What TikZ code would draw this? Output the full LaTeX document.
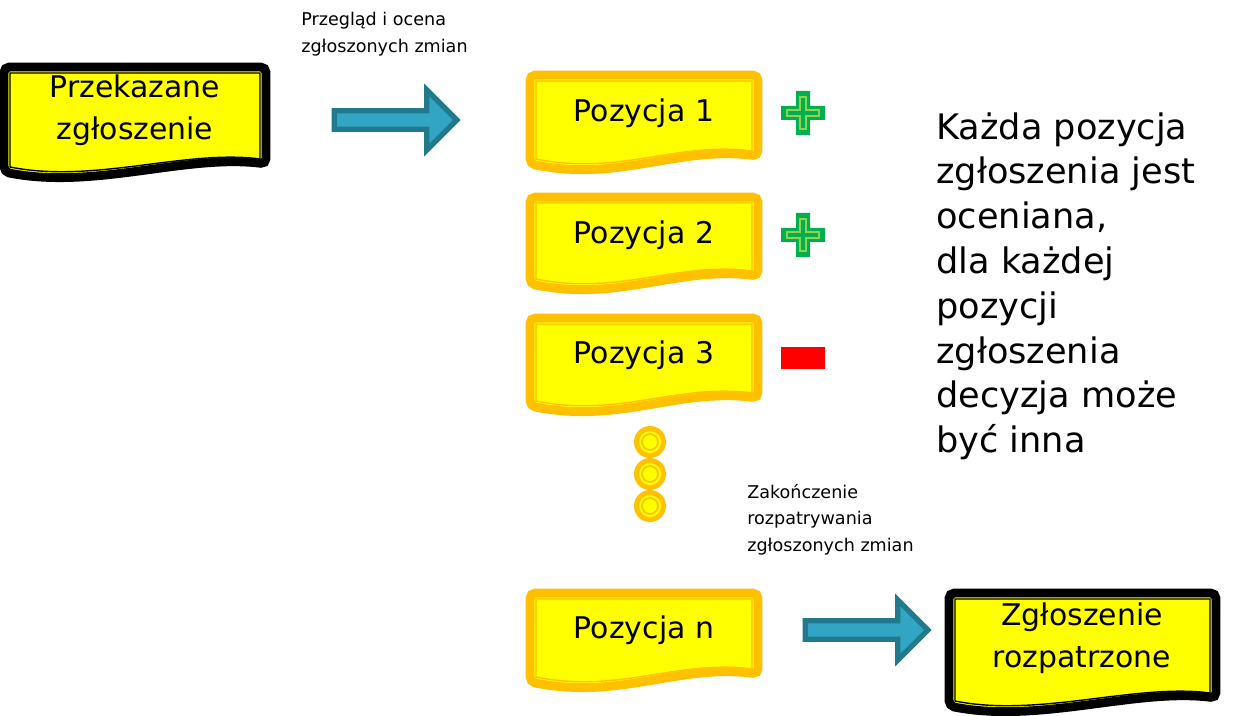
\documentclass[tikz,border=0pt]{standalone}
\usepackage{fontspec}
\setmainfont{DejaVu Sans}
\usetikzlibrary{shapes.arrows}
\definecolor{docyellow}{HTML}{FFFF00}
\definecolor{docorange}{HTML}{FFC000}
\definecolor{arrowblue}{HTML}{31A5C3}
\definecolor{arrowdark}{HTML}{217A8C}
\definecolor{plusgreen}{HTML}{00B050}
\definecolor{pluslight}{HTML}{92D050}

% document shape: x1 y1 x2 y2 border
\newcommand\docshape[5]{%
  \draw[#5,line width=5pt,fill=docyellow,rounded corners=3pt]
    (#1,#2) -- (#3,#2) -- (#3,#4-12) .. controls (#3-80,#4-22) and (#1+90,#4+14) .. (#1,#4-4) -- cycle;
  \draw[#5,line width=0.8pt]
    (#1+6,#2+6) -- (#3-6,#2+6) -- (#3-6,#4-17) .. controls (#3-80,#4-27) and (#1+90,#4+8) .. (#1+6,#4-9) -- cycle;
}
\newcommand\plussign[2]{%
  \fill[plusgreen] (#1-7,#2-22) -- (#1+7,#2-22) -- (#1+7,#2-7) -- (#1+22,#2-7) -- (#1+22,#2+7) -- (#1+7,#2+7)
    -- (#1+7,#2+22) -- (#1-7,#2+22) -- (#1-7,#2+7) -- (#1-22,#2+7) -- (#1-22,#2-7) -- (#1-7,#2-7) -- cycle;
  \draw[pluslight,line width=0.8pt] (#1-3,#2-16) -- (#1+3,#2-16) -- (#1+3,#2-3) -- (#1+16,#2-3) -- (#1+16,#2+3) -- (#1+3,#2+3)
    -- (#1+3,#2+16) -- (#1-3,#2+16) -- (#1-3,#2+3) -- (#1-16,#2+3) -- (#1-16,#2-3) -- (#1-3,#2-3) -- cycle;
}

\begin{document}
\begin{tikzpicture}
    [
      x=0.02cm, y=-0.02cm,
      doctext/.style={font=\fontsize{17}{24}\selectfont, align=center},
      note/.style={font=\fontsize{10}{15}\selectfont, align=left, anchor=north west, inner sep=0pt},
      blockarrow/.style={single arrow, draw=arrowdark, fill=arrowblue, line width=3pt,
        minimum height=2.45cm, minimum width=1.2cm, single arrow head extend=0.12cm, inner sep=0pt},
      dot/.style={circle, fill=docorange, minimum size=0.64cm, inner sep=0pt},
    ]
    \useasboundingbox (0,0) rectangle (1242,716);

    \docshape{4}{67}{266}{176}{black}
    \node (przekazane) [doctext] at (135,110) {Przekazane\\zgłoszenie};

    \docshape{530}{75}{758}{168}{docorange}
    \node (poz-1) [doctext] at (644,113) {Pozycja 1};
    \docshape{530}{197}{758}{288}{docorange}
    \node (poz-2) [doctext] at (644,235) {Pozycja 2};
    \docshape{530}{318}{758}{410}{docorange}
    \node (poz-3) [doctext] at (644,355) {Pozycja 3};
    \docshape{530}{593}{758}{686}{docorange}
    \node (poz-n) [doctext] at (644,630) {Pozycja n};

    \docshape{949}{593}{1216}{710}{black}
    \node (rozpatrzone) [doctext] at (1082,638) {Zgłoszenie\\rozpatrzone};

    \node (arrow-in) [blockarrow] at (391,120) {};
    \node (arrow-out) [blockarrow] at (862,630) {};

    \plussign{803}{113}
    \plussign{803}{235}
    \fill[red] (781,347) rectangle (825,369);

    \foreach \y/\n in {442/1,474/2,506/3} {
      \node (dot-\n) [dot] at (650,\y) {};
      \draw[docyellow, line width=1.2pt] (650,\y) circle (10);
      \fill[docyellow] (650,\y) circle (7);
    }

    \node (przeglad) [note] at (301,12) {Przegląd i ocena\\zgłoszonych zmian};
    \node (zakonczenie) [note] at (747,484) {Zakończenie\\rozpatrywania\\zgłoszonych zmian};
    \node (opis) [anchor=north west, inner sep=0pt, align=left,
      font=\fontsize{20}{25.5}\selectfont] at (936,112)
      {Każda pozycja\\zgłoszenia jest\\oceniana,\\dla każdej\\pozycji\\zgłoszenia\\decyzja może\\być inna};
\end{tikzpicture}
\end{document}
